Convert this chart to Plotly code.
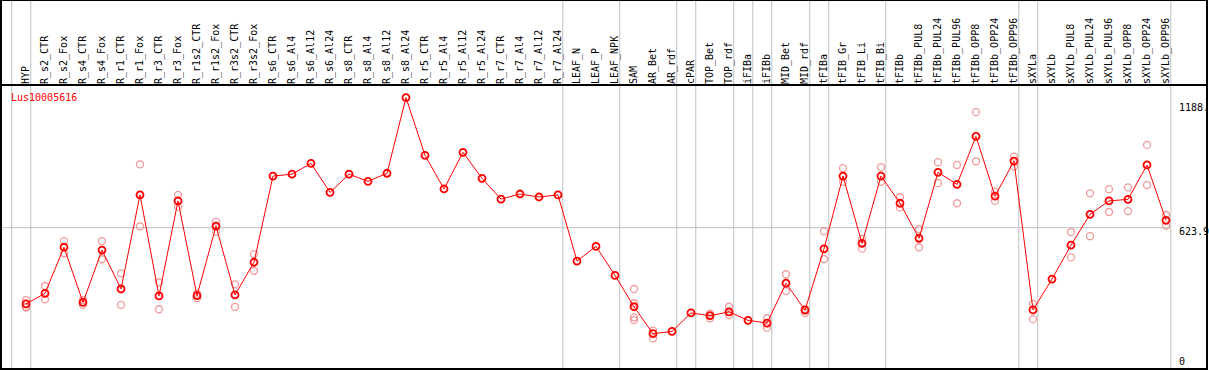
import plotly.graph_objects as go

categories = ["HYP", "R_s2_CTR", "R_s2_Fox", "R_s4_CTR", "R_s4_Fox", "R_r1_CTR", "R_r1_Fox",
              "R_r3_CTR", "R_r3_Fox", "R_r1s2_CTR", "R_r1s2_Fox", "R_r3s2_CTR", "R_r3s2_Fox",
              "R_s6_CTR", "R_s6_Al4", "R_s6_Al12", "R_s6_Al24", "R_s8_CTR", "R_s8_Al4", "R_s8_Al12",
              "R_s8_Al24", "R_r5_CTR", "R_r5_Al4", "R_r5_Al12", "R_r5_Al24", "R_r7_CTR", "R_r7_Al4",
              "R_r7_Al12", "R_r7_Al24", "LEAF_N", "LEAF_P", "LEAF_NPK", "SAM", "AR_Bet", "AR_rdf",
              "cPAR", "TOP_Bet", "TOP_rdf", "iFIBa", "iFIBb", "MID_Bet", "MID_rdf", "tFIBa",
              "tFIB_Gr", "tFIB_Li", "tFIB_Bi", "tFIBb", "tFIBb_PUL8", "tFIBb_PUL24", "tFIBb_PUL96",
              "tFIBb_OPP8", "tFIBb_OPP24", "tFIBb_OPP96", "sXYLa", "sXYLb", "sXYLb_PUL8",
              "sXYLb_PUL24", "sXYLb_PUL96", "sXYLb_OPP8", "sXYLb_OPP24", "sXYLb_OPP96"]

mean_values = [293, 339, 539, 300, 527, 358, 766, 328, 740, 329, 631, 332, 474,
               848, 856, 903, 777, 856, 825, 860, 1188, 938, 792, 951, 838, 748, 770,
               757, 766, 479, 543, 417, 281, 164, 174, 254, 242, 259, 222, 210, 383, 266, 532,
               848, 556, 848, 730, 578, 864, 812, 1020, 761, 913, 267, 401, 548,
               682, 740, 747, 896, 656]

rep_a = [310, 371, 566, 310, 566, 426, 899, 387, 766, 338, 650, 378, 509,
         None, None, None, None, None, None, None, None, None, None, None, None, None, None,
         None, None, None, None, None, 358, 177, None, None, 251, 281, None, 231, 422, 271, 608,
         882, 575, 886, 756, 618, 908, 896, 1125, 780, 932, 293, None, 605,
         773, 791, 799, 983, 679]

rep_b = [281, 313, 513, 289, 487, 289, 630, 270, 715, 318, 607, 280, 437,
         None, None, None, None, None, None, None, None, None, None, None, None, None, None,
         None, None, None, None, None, 296, 144, None, None, 231, 245, None, 190, 349, 254, 488,
         823, 533, 823, 712, 539, 817, 730, 912, 740, 889, 227, None, 495,
         587, 692, 696, 809, 633]

rep_c = [277, None, None, None, None, None, None, None, None, None, None, None, None,
         None, None, None, None, None, None, None, None, None, None, None, None, None, None,
         None, None, None, None, None, 235, None, None, None, None, None, None, None, None, None, None,
         None, None, None, None, None, None, None, None, None, None, None, None, None,
         None, None, None, None, None]

rep_d = [None] * 32 + [223] + [None] * 28

group_breaks = [-1, 0, 28, 31, 34, 35, 37, 38, 39, 41, 42, 45, 52, 53, 60]
gene_name = "Lus10005616"
y_labels = ["1188.", "623.9", "0"]
ref_line_value = 623.9

idx = list(range(len(categories)))

FONT = "DejaVu Sans Mono"
fig = go.Figure()

rep_color = "rgba(236,120,120,0.75)"
for reps in (rep_a, rep_b, rep_c, rep_d):
    fig.add_trace(go.Scatter(
        x=idx, y=reps, mode="markers",
        marker=dict(symbol="circle-open", size=7, color=rep_color, line=dict(width=1.3, color=rep_color)),
        hoverinfo="skip", showlegend=False))

fig.add_trace(go.Scatter(
    x=idx, y=mean_values, mode="lines+markers",
    line=dict(color="#ff0000", width=1),
    marker=dict(symbol="circle-open", size=7, color="#ff0000", line=dict(width=1.8, color="#ff0000")),
    showlegend=False))

# plot-area geometry (pixels)
W, H = 1209, 370
L, R, T, B = 1, 2, 85, 1
plot_h = H - T - B

shapes = []
for g in group_breaks:
    shapes.append(dict(type="line", xref="x", yref="paper", x0=g + 0.25, x1=g + 0.25,
                       y0=0, y1=1 + T / plot_h, line=dict(color="#c0c0c0", width=1), layer="below"))
shapes.append(dict(type="line", xref="x", yref="y", x0=-1.4, x1=60.25, y0=ref_line_value, y1=ref_line_value,
                   line=dict(color="#c0c0c0", width=1), layer="below"))
shapes.append(dict(type="rect", xref="paper", yref="paper", x0=0, x1=1, y0=0, y1=1 + T / plot_h,
                   line=dict(color="black", width=2)))
shapes.append(dict(type="line", xref="paper", yref="paper", x0=0, x1=1, y0=1, y1=1,
                   line=dict(color="black", width=2)))

def py(p):
    return (H - B - p) / plot_h

def px(p):
    return (p - L) / (W - L - R)

annotations = [
    dict(text=gene_name, xref="paper", yref="paper", x=px(9), y=py(97), xanchor="left", yanchor="middle",
         showarrow=False, font=dict(family=FONT, size=10, color="#ff0000")),
]
for lab, ypix in zip(y_labels, [107, 231.5, 361.5]):
    annotations.append(dict(text=lab, xref="paper", yref="paper", x=px(1177), y=py(ypix),
                            xanchor="left", yanchor="middle", showarrow=False,
                            font=dict(family=FONT, size=10, color="black")))

fig.update_layout(
    width=W, height=H,
    margin=dict(l=L, r=R, t=T, b=B, pad=0),
    paper_bgcolor="white", plot_bgcolor="white",
    shapes=shapes, annotations=annotations,
    xaxis=dict(range=[(L - 26) / 19, (W - R - 26) / 19], side="top", tickmode="array",
               tickvals=idx, ticktext=categories, tickangle=-90, showgrid=False, zeroline=False,
               showline=False, ticks="", tickfont=dict(family=FONT, size=10, color="black"), fixedrange=True),
    yaxis=dict(range=[(371.5 - (H - B)) / 0.2305, (371.5 - T) / 0.2305], showgrid=False, zeroline=False,
               showticklabels=False, showline=False, ticks=""),
)

fig.write_html("out.html", config={"displayModeBar": False},
               post_script="document.body.style.margin='0px';document.body.style.overflow='hidden';")
